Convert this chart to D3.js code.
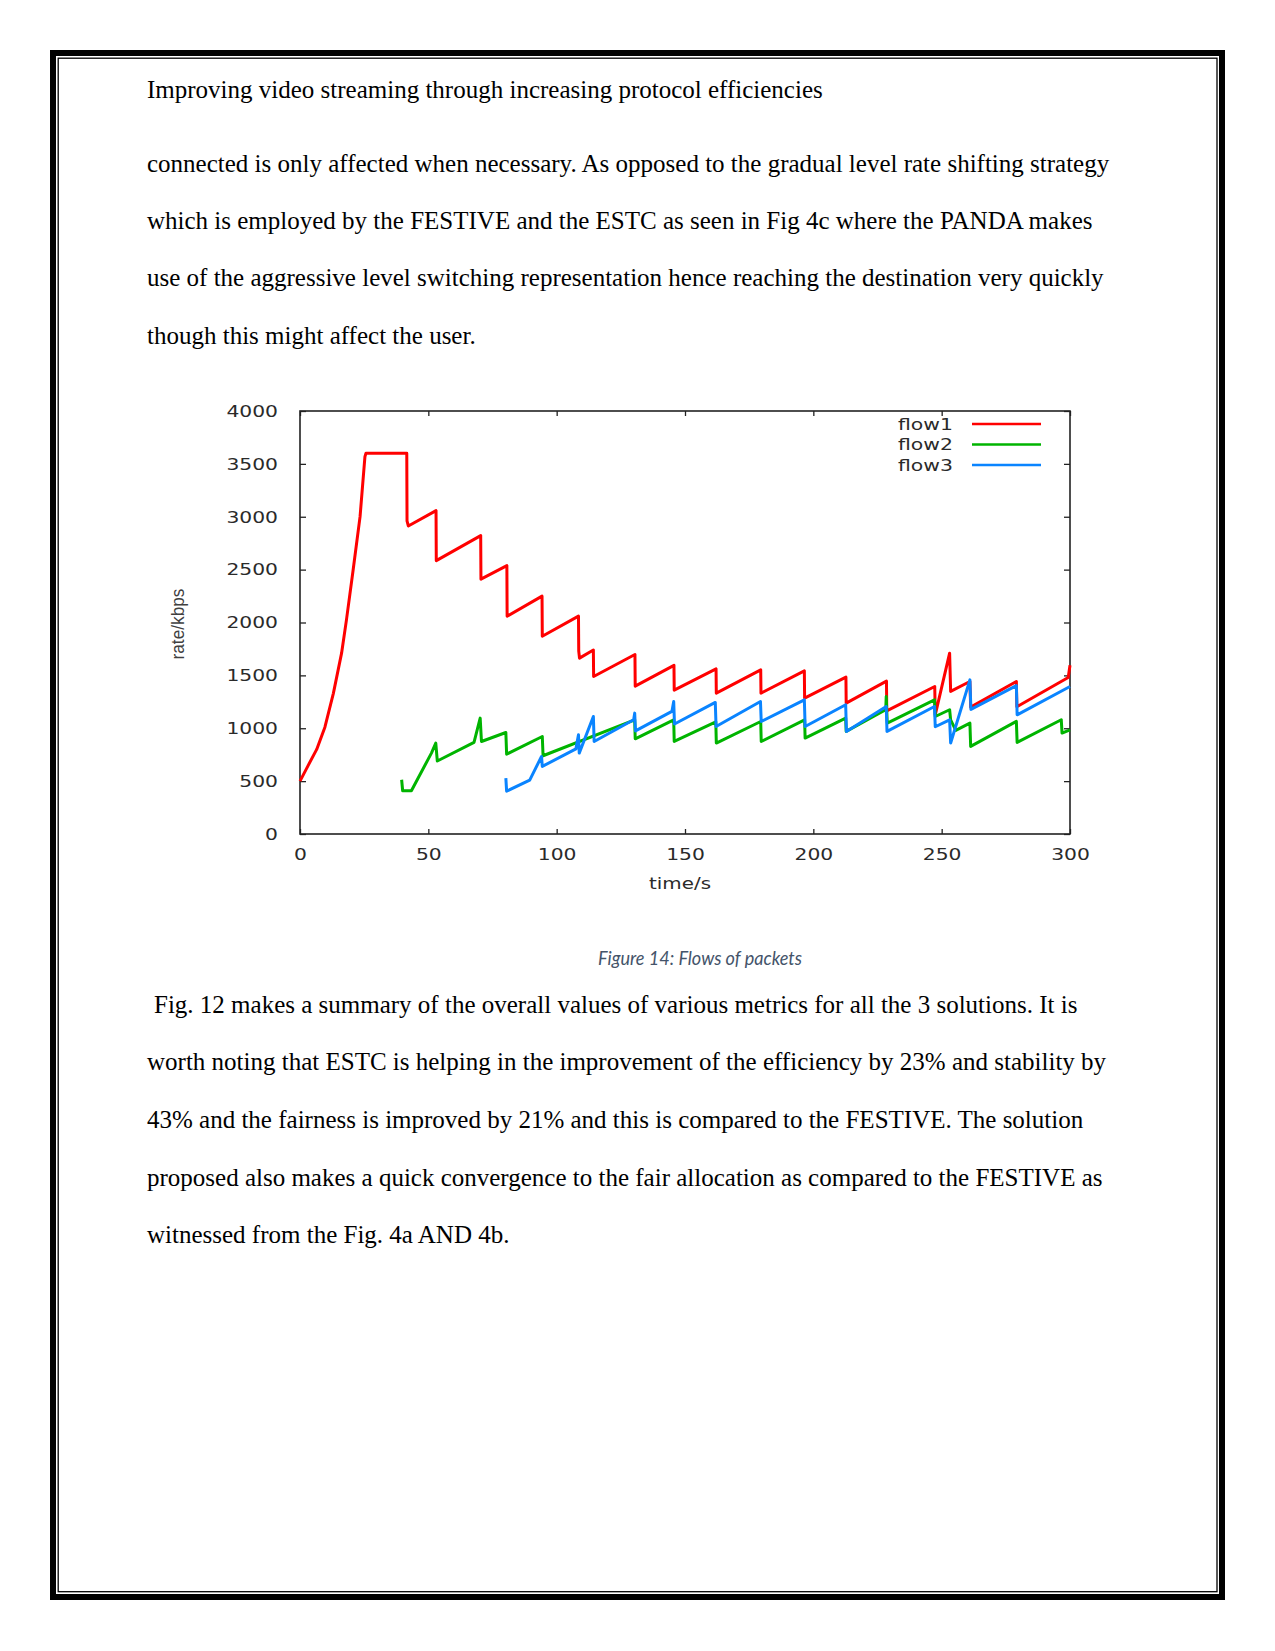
<!DOCTYPE html>
<html><head><meta charset="utf-8">
<script src="https://cdn.jsdelivr.net/npm/d3@7"></script>
<style>body{margin:0;background:#fff} svg{display:block}</style>
</head><body>
<script>
// ---------- text content ----------
const headerText = "Improving video streaming through increasing protocol efficiencies";
const para1Lines = [
  "connected is only affected when necessary. As opposed to the gradual level rate shifting strategy",
  "which is employed by the FESTIVE and the ESTC as seen in Fig 4c where the PANDA makes",
  "use of the aggressive level switching representation hence reaching the destination very quickly",
  "though this might affect the user."
];
const captionText = "Figure 14: Flows of packets";
const para2Lines = [
  "Fig. 12 makes a summary of the overall values of various metrics for all the 3 solutions. It is",
  "worth noting that ESTC is helping in the improvement of the efficiency by 23% and stability by",
  "43% and the fairness is improved by 21% and this is compared to the FESTIVE. The solution",
  "proposed also makes a quick convergence to the fair allocation as compared to the FESTIVE as",
  "witnessed from the Fig. 4a AND 4b."
];

// ---------- chart data ----------
const xTicks = [0, 50, 100, 150, 200, 250, 300];
const yTicks = [0, 500, 1000, 1500, 2000, 2500, 3000, 3500, 4000];
const xTitle = "time/s";
const yTitle = "rate/kbps";
const flowNames = ["flow1", "flow2", "flow3"];
const flowColors = ["#ff0000", "#00b400", "#0a84ff"];

const flow1Time = [0, 3, 6.5, 9.7, 13, 16.2, 18.1, 20.7, 23.4, 25.3, 25.7, 41.6, 41.7, 42.2, 53.0, 53.1, 70.4, 70.5, 80.6, 80.7, 94.3, 94.4, 108.5, 108.6, 108.9, 114.3, 114.4, 130.5, 130.6, 145.7, 145.8, 162.1, 162.2, 179.5, 179.6, 196.5, 196.6, 212.7, 212.8, 228.5, 228.6, 247.3, 247.5, 253.1, 253.5, 261.0, 261.3, 279.1, 279.3, 299.3, 300];
const flow1Rate = [500, 640, 800, 1010, 1330, 1710, 2025, 2497, 3001, 3568, 3600, 3600, 2960, 2913, 3058, 2585, 2822, 2410, 2538, 2060, 2249, 1870, 2060, 1730, 1663, 1740, 1489, 1697, 1398, 1595, 1360, 1562, 1332, 1552, 1332, 1543, 1285, 1483, 1238, 1445, 1165, 1395, 1127, 1710, 1348, 1442, 1200, 1442, 1203, 1480, 1595];

const flow2Time = [39.6, 40.0, 43.4, 51.2, 52.9, 53.5, 67.8, 70.2, 70.7, 80.2, 80.5, 94.4, 94.7, 130.4, 130.6, 145.6, 145.8, 162.0, 162.2, 179.5, 179.7, 196.6, 196.8, 212.6, 212.8, 228.2, 228.4, 228.8, 247.2, 247.5, 253.1, 253.5, 255.5, 261.0, 261.3, 279.1, 279.4, 296.6, 296.9, 300];
const flow2Rate = [513, 409, 409, 765, 860, 690, 866, 1096, 875, 960, 755, 922, 740, 1080, 900, 1080, 875, 1060, 860, 1064, 875, 1080, 907, 1096, 970, 1175, 1300, 1049, 1269, 1111, 1175, 1080, 980, 1049, 828, 1065, 866, 1080, 954, 985];

const flow3Time = [80.2, 80.5, 89.5, 94.1, 94.4, 107.5, 108.5, 108.8, 114.3, 114.6, 130.0, 130.4, 130.7, 144.9, 145.6, 145.9, 161.8, 162.1, 179.4, 179.7, 196.5, 196.8, 212.6, 212.9, 228.4, 228.7, 247.2, 247.5, 253.1, 253.5, 261.0, 261.4, 279.1, 279.4, 300];
const flow3Rate = [529, 405, 510, 733, 639, 805, 938, 765, 1111, 875, 1080, 1143, 975, 1159, 1253, 1040, 1244, 1017, 1253, 1064, 1269, 1017, 1222, 970, 1206, 970, 1206, 1014, 1080, 860, 1458, 1178, 1403, 1127, 1395];

const flowTimes = [flow1Time, flow2Time, flow3Time];
const flowRates = [flow1Rate, flow2Rate, flow3Rate];

// ---------- page ----------
const W = 1275, H = 1651;
const svg = d3.select("body").append("svg").attr("width", W).attr("height", H);

// page border (thick outer + thin inner)
svg.append("rect").attr("x", 53).attr("y", 53).attr("width", 1169).attr("height", 1544)
  .attr("fill", "none").attr("stroke", "#000").attr("stroke-width", 6);
svg.append("rect").attr("x", 58.2).attr("y", 58.2).attr("width", 1158.8).attr("height", 1533.5)
  .attr("fill", "none").attr("stroke", "#000").attr("stroke-width", 1.3);

const serif = "'Liberation Serif', 'Times New Roman', serif";
svg.append("text").attr("x", 147).attr("y", 97.5).attr("font-family", serif).attr("font-size", 25)
  .text(headerText);

const p1Base = [171.5, 228.5, 286, 343.5];
svg.selectAll("text.p1").data(para1Lines).join("text").attr("class", "p1")
  .attr("x", 147).attr("y", (d, i) => p1Base[i])
  .attr("font-family", serif).attr("font-size", 25).text(d => d);

const p2Base = [1012.5, 1070.3, 1128.2, 1185.5, 1243];
svg.selectAll("text.p2").data(para2Lines).join("text").attr("class", "p2")
  .attr("x", (d, i) => i === 0 ? 154 : 147).attr("y", (d, i) => p2Base[i])
  .attr("font-family", serif).attr("font-size", 25).text(d => d);

svg.append("text").attr("x", 598).attr("y", 965)
  .attr("font-family", "Lato, 'Open Sans', sans-serif").attr("font-style", "italic")
  .attr("font-size", 18.75).attr("fill", "#44546A")
  .attr("textLength", 204).attr("lengthAdjust", "spacingAndGlyphs")
  .text(captionText);

// ---------- chart ----------
const x = d3.scaleLinear().domain([0, 300]).range([300, 1070]);
const y = d3.scaleLinear().domain([0, 4000]).range([834, 411]);
const chartFont = "'DejaVu Sans', Verdana, sans-serif";
const fmt = d3.format("d");
const g = svg.append("g");

function styleAxis(sel, labels) {
  sel.select(".domain").remove();
  sel.selectAll(".tick line").attr("stroke", "#222").attr("stroke-width", 1.3);
  if (labels) {
    sel.selectAll(".tick text")
      .attr("font-family", chartFont).attr("font-size", 16.5).attr("fill", "#2a2a2a")
      .attr("textLength", d => fmt(d).length * 12.9)
      .attr("lengthAdjust", "spacingAndGlyphs");
  } else {
    sel.selectAll(".tick text").remove();
  }
}

g.append("g").attr("transform", "translate(300,0)")
  .call(d3.axisLeft(y).tickValues(yTicks).tickFormat(fmt).tickSize(-6).tickPadding(22))
  .call(s => styleAxis(s, true));
g.append("g").attr("transform", "translate(1070,0)")
  .call(d3.axisRight(y).tickValues(yTicks).tickSize(-6))
  .call(s => styleAxis(s, false));
g.append("g").attr("transform", "translate(0,834)")
  .call(d3.axisBottom(x).tickValues(xTicks).tickFormat(fmt).tickSize(-5).tickPadding(14))
  .call(s => styleAxis(s, true));
g.append("g").attr("transform", "translate(0,411)")
  .call(d3.axisTop(x).tickValues(xTicks).tickSize(-5))
  .call(s => styleAxis(s, false));

// frame
g.append("rect").attr("x", 300).attr("y", 411).attr("width", 770).attr("height", 423)
  .attr("fill", "none").attr("stroke", "#222").attr("stroke-width", 1.6);

// axis titles
g.append("text").attr("x", 680).attr("y", 889).attr("text-anchor", "middle")
  .attr("font-family", chartFont).attr("font-size", 16.5).attr("fill", "#2a2a2a")
  .attr("textLength", 62).attr("lengthAdjust", "spacingAndGlyphs").text(xTitle);
g.append("text").attr("transform", "translate(184,624) rotate(-90)").attr("text-anchor", "middle")
  .attr("font-family", "'Liberation Sans Narrow', 'Liberation Sans', Arial, sans-serif")
  .attr("font-size", 19).attr("fill", "#404040")
  .attr("textLength", 71).attr("lengthAdjust", "spacingAndGlyphs").text(yTitle);

// series
const line = d3.line().x(d => x(d[0])).y(d => y(d[1]));
flowNames.forEach((name, i) => {
  g.append("path").datum(d3.zip(flowTimes[i], flowRates[i]))
    .attr("fill", "none").attr("stroke", flowColors[i]).attr("stroke-width", 3)
    .attr("stroke-linejoin", "round").attr("d", line);
});

// legend
const legY = [424, 444.5, 465];
flowNames.forEach((name, i) => {
  g.append("text").attr("x", 953).attr("y", legY[i]).attr("dy", "0.36em").attr("text-anchor", "end")
    .attr("font-family", chartFont).attr("font-size", 16.5).attr("fill", "#2a2a2a")
    .attr("textLength", 55).attr("lengthAdjust", "spacingAndGlyphs").text(name);
  g.append("line").attr("x1", 972).attr("x2", 1041).attr("y1", legY[i]).attr("y2", legY[i])
    .attr("stroke", flowColors[i]).attr("stroke-width", 2.4);
});
</script>
</body></html>
